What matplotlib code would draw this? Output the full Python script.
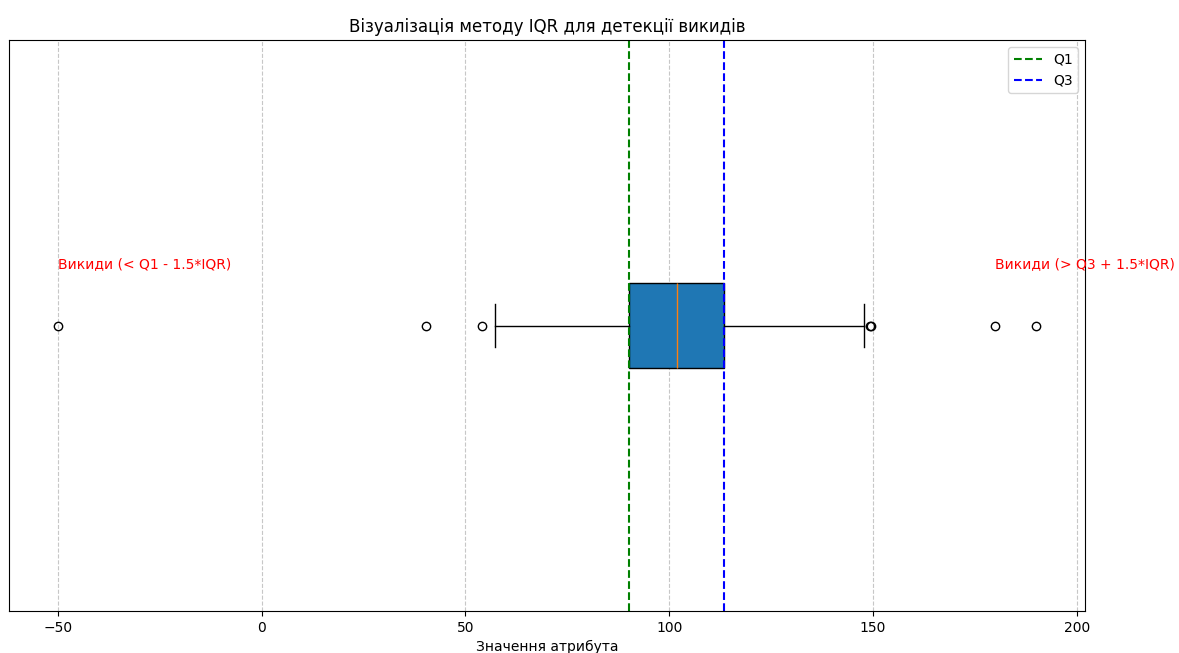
import matplotlib.pyplot as plt

# box statistics
q1 = 90.1
q3 = 113.4
median = 101.9
whisker_low = 57.3
whisker_high = 147.7
outliers = [-50, 40.4, 54.1, 149.3, 149.6, 180, 190]

stats = [{
    'med': median,
    'q1': q1,
    'q3': q3,
    'whislo': whisker_low,
    'whishi': whisker_high,
    'fliers': outliers,
}]

fig = plt.figure(figsize=(11.79, 6.53), dpi=100)
ax = fig.add_axes([0.0076, 0.0643, 0.9127, 0.8744])

ax.bxp(stats, vert=False, widths=0.15, patch_artist=True,
       boxprops=dict(facecolor='C0'),
       medianprops=dict(color='C1'))

ax.axvline(q1, color='green', linestyle='--', label='Q1')
ax.axvline(q3, color='blue', linestyle='--', label='Q3')

low_out = [v for v in outliers if v < q1 - 1.5 * (q3 - q1)]
high_out = [v for v in outliers if v > q3 + 1.5 * (q3 - q1)]
ax.text(min(low_out), 1.1, 'Викиди (< Q1 - 1.5*IQR)', color='red')
ax.text(min(high_out[2:]), 1.1, 'Викиди (> Q3 + 1.5*IQR)', color='red')

ax.set_ylim(0.5, 1.5)
ax.set_yticks([])
ax.set_title('Візуалізація методу IQR для детекції викидів', fontsize=12)
ax.set_xlabel('Значення атрибута')
ax.grid(axis='x', linestyle='--', alpha=0.7)
ax.legend(loc='upper right')

plt.savefig('out.png')
